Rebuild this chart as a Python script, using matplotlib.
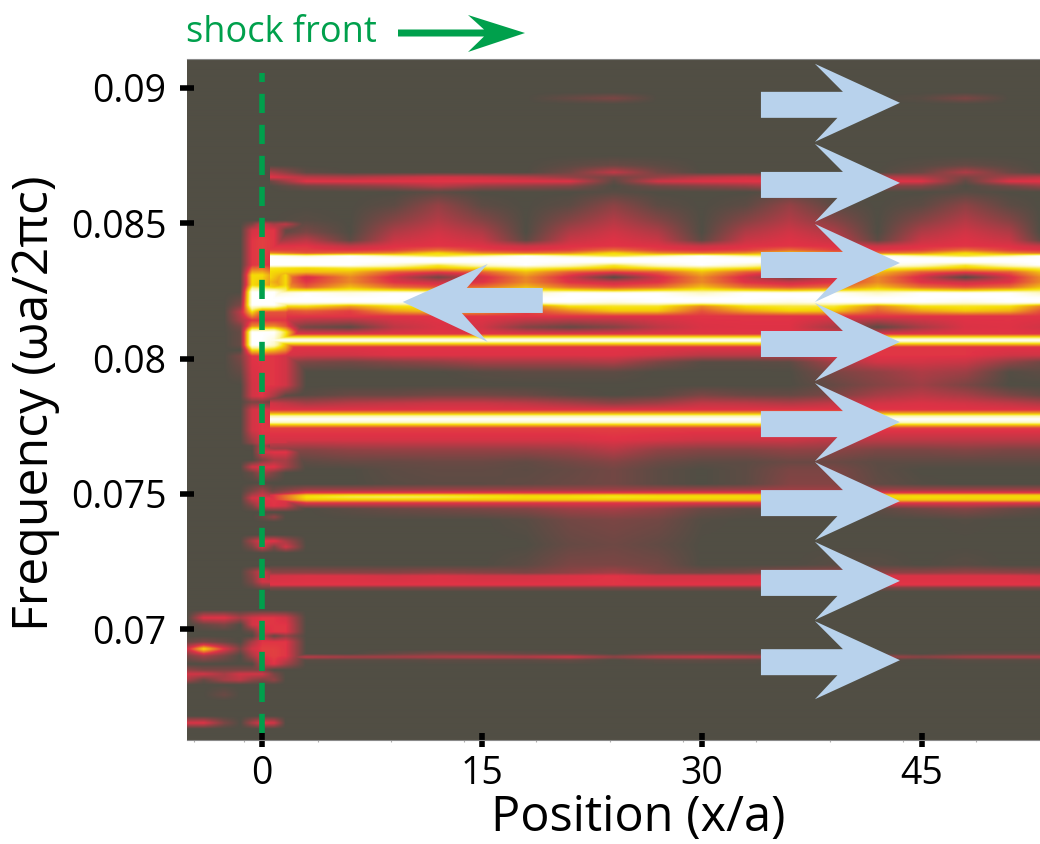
"""
Shock front spectrum map
"""

import numpy as np
import matplotlib
matplotlib.use('Agg')
import matplotlib.pyplot as plt
from matplotlib.colors import LinearSegmentedColormap
from matplotlib.patches import Polygon

plt.rcParams['font.family'] = ['Open Sans', 'DejaVu Sans']

# axis ranges and ticks
x_range = (-5.11, 53.05)
y_range = (0.0659, 0.09107)
x_ticks = [0, 15, 30, 45]
x_minor_ticks = [-4.6, -1.2, 3.8, 8.8, 13.8, 18.7, 23.7, 28.7, 33.7, 38.7, 43.7, 48.7]
y_ticks = [0.07, 0.075, 0.08, 0.085, 0.09]
y_tick_labels = ['0.07', '0.075', '0.08', '0.085', '0.09']

# arrows, frequency at the tip
right_arrow_freq = [0.08945, 0.08649, 0.08353, 0.08061, 0.07765, 0.07473, 0.07178, 0.06885]
right_arrow_tip = 43.5
left_arrow_freq = 0.08209
left_arrow_tip = 9.6

main_x = [0.5, 3, 6, 9, 12, 15, 18, 21, 24, 27, 30, 33, 36, 39, 42, 45, 48, 51, 53.1]
main_freq = [
    0.09107, 0.08985, 0.08963, 0.08941, 0.08752, 0.08715, 0.08689, 0.08671, 0.08656, 0.08638,
    0.08616, 0.08567, 0.08512, 0.08468, 0.08438, 0.08416, 0.08401, 0.08390, 0.08379, 0.08372,
    0.08357, 0.08346, 0.08335, 0.08320, 0.08301, 0.08283, 0.08264, 0.08253, 0.08242, 0.08224,
    0.08209, 0.08194, 0.08176, 0.08157, 0.08116, 0.08091, 0.08079, 0.08068, 0.08057, 0.08043,
    0.08013, 0.07987, 0.07950, 0.07902, 0.07865, 0.07835, 0.07810, 0.07798, 0.07787, 0.07776,
    0.07765, 0.07754, 0.07743, 0.07699, 0.07662, 0.07617, 0.07588, 0.07536, 0.07514, 0.07503,
    0.07495, 0.07488, 0.07477, 0.07466, 0.07444, 0.07403, 0.07311, 0.07237, 0.07207, 0.07196,
    0.07163, 0.07152, 0.07137, 0.06923, 0.06908, 0.06896, 0.06885, 0.06867, 0.06590,
]
main_level = [
    [0] * 19,
    [0] * 19,
    [0, 0, 0, 0, 0, 0, 0, .05, .10, 0, 0, 0, 0, 0, 0, .02, .10, 0, 0],
    [0] * 19,
    [0] * 19,
    [0, 0, 0, 0, 0, 0, 0, .03, .06, .03, 0, 0, 0, 0, 0, .02, .05, .02, 0],
    [.22, .03, 0, 0, 0, 0, 0, .08, .26, .08, 0, 0, 0, 0, 0, .06, .22, .06, 0],
    [.34, .24, .22, .26, .30, .28, .24, .16, .08, .16, .24, .28, .26, .26, .24, .22, .10, .20, .24],
    [.06, .34, .34, .34, .34, .34, .33, .33, .03, .30, .33, .34, .34, .34, .34, .33, .04, .33, .34],
    [0, .08, .12, .16, .24, .16, .14, .12, 0, .08, .12, .16, .24, .16, .12, .12, 0, .08, .16],
    [0, 0, 0, 0, .03, 0, 0, 0, .02, 0, 0, 0, .03, 0, 0, 0, .02, 0, 0],
    [0, 0, 0, .03, .16, .03, 0, .03, .14, .03, 0, .03, .16, .03, 0, .03, .14, .03, 0],
    [0, .02, 0, .12, .23, .12, 0, .12, .23, .12, 0, .12, .23, .12, 0, .12, .23, .12, 0],
    [0, .10, 0, .22, .30, .22, 0, .22, .30, .22, 0, .22, .30, .22, 0, .22, .30, .22, 0],
    [.15, .25, .03, .28, .33, .28, .03, .28, .33, .28, .03, .28, .33, .28, .03, .28, .33, .28, .04],
    [.33, .34, .26, .33, .34, .33, .28, .33, .34, .33, .28, .33, .34, .33, .28, .33, .34, .33, .28],
    [.36, .36, .34, .36, .45, .36, .34, .36, .45, .36, .34, .36, .45, .36, .34, .36, .45, .36, .34],
    [.50, .40, .45, .50, .66, .50, .45, .50, .66, .50, .45, .50, .66, .50, .45, .50, .66, .50, .45],
    [1, .90, 1, .85, .72, .85, 1, .85, .72, .85, 1, .85, .72, .85, 1, .85, .72, .85, 1],
    [1] * 19,
    [1] * 19,
    [1, 1, 1, .90, .72, .90, 1, .90, .72, .90, 1, .90, .72, .90, 1, .90, .72, .90, 1],
    [.70, .66, .72, .70, .62, .70, .76, .70, .62, .70, .76, .70, .62, .70, .76, .70, .62, .70, .76],
    [.66, .60, .60, .42, .36, .42, .60, .42, .36, .42, .60, .42, .36, .42, .60, .42, .36, .42, .60],
    [.66, .30, .50, .30, .08, .30, .50, .30, .02, .30, .50, .30, .08, .30, .50, .30, .02, .30, .50],
    [.60, .34, .50, .33, .28, .33, .50, .33, .28, .33, .50, .33, .28, .33, .50, .33, .28, .33, .50],
    [.66, .42, .60, .45, .40, .45, .60, .45, .40, .45, .60, .45, .40, .45, .60, .45, .40, .45, .60],
    [.70, .66, .72, .66, .60, .66, .72, .66, .60, .66, .72, .66, .60, .66, .72, .66, .60, .66, .72],
    [.90, 1, .95, 1, 1, 1, .90, 1, 1, 1, .90, 1, 1, 1, .90, 1, 1, 1, .90],
    [1] * 19,
    [1, 1, 1, 1, .95, 1, 1, 1, .95, 1, 1, 1, .95, 1, 1, 1, .95, 1, 1],
    [.66, .68, .55, .68, .70, .68, .45, .68, .70, .70, .50, .68, .72, .72, .50, .68, .70, .68, .50],
    [.36, .42, .36, .55, .62, .55, .36, .50, .62, .62, .40, .55, .64, .62, .42, .55, .62, .58, .40],
    [.34] * 19,
    [.30, .08, .03, .25, .32, .30, .12, .05, .12, .25, .32, .33, .33, .20, .03, .20, .32, .33, .30],
    [.34] * 19,
    [.70] * 19,
    [1] * 19,
    [.70] * 19,
    [.34] * 19,
    [.33, .30, .30, .33, .33, .33, .33, .33, .33, .30, .25, .25, .25, .33, .34, .34, .34, .30, .30],
    [.20, .10, .08, .12, .15, .20, .20, .20, .22, .10, .02, .02, .03, .20, .30, .30, .28, .15, .08],
    [.10, 0, 0, 0, 0, .02, .03, .03, .03, 0, 0, 0, 0, .10, .15, .22, .18, .01, .03],
    [0, 0, 0, 0, 0, 0, 0, 0, 0, 0, 0, 0, 0, .05, .12, .18, .10, 0, 0],
    [0, .02, .06, .06, .08, .08, .06, .02, 0, .02, .10, .06, .05, .10, .20, .25, .20, .10, .05],
    [.30, .20, .24, .26, .28, .28, .25, .20, .14, .18, .26, .25, .22, .26, .30, .32, .30, .26, .22],
    [.34] * 19,
    [.55] * 19,
    [.85] * 19,
    [1] * 19,
    [.90] * 19,
    [.60] * 19,
    [.36] * 19,
    [.31, .31, .31, .31, .31, .31, .31, .31, .33, .31, .29, .29, .29, .25, .25, .25, .25, .25, .25],
    [.15, .12, .15, .16, .16, .16, .16, .18, .24, .15, .12, .12, .15, .14, .10, .10, .12, .10, .10],
    [0, .03, .05, .05, .06, .06, .04, .08, .12, .06, .03, .03, .06, .06, .03, .03, .03, .03, .03],
    [0, 0, 0, .03, .04, .04, .03, .05, .08, .03, 0, .03, .10, .10, .03, 0, 0, 0, 0],
    [0, 0, 0, .02, .03, .03, .04, .06, .08, .03, 0, .03, .12, .12, .04, .01, 0, 0, 0],
    [.05, .18, .18, .18, .18, .18, .18, .18, .18, .18, .18, .18, .18, .18, .18, .18, .18, .18, .18],
    [.10, .36, .36, .36, .36, .36, .36, .36, .36, .36, .36, .36, .36, .36, .36, .36, .36, .36, .36],
    [.30, .62, .66, .66, .66, .64, .62, .62, .64, .62, .62, .62, .62, .62, .62, .62, .62, .62, .62],
    [.30, .68, .74, .76, .74, .70, .67, .68, .70, .68, .67, .66, .66, .66, .66, .67, .66, .66, .66],
    [.30, .62, .62, .62, .62, .62, .62, .62, .62, .62, .62, .62, .62, .62, .62, .62, .62, .62, .62],
    [.05, .34, .34, .34, .34, .34, .34, .34, .34, .34, .34, .34, .34, .34, .34, .34, .34, .34, .34],
    [0, 0, .03, .06, .08, .10, .12, .18, .20, .15, .06, .03, .03, .03, .03, .08, .12, .06, .03],
    [0, 0, 0, 0, 0, 0, .02, .08, .10, .08, .01, 0, 0, 0, 0, 0, .01, 0, 0],
    [0, 0, 0, 0, 0, 0, 0, .05, .07, .04, 0, 0, 0, 0, 0, 0, 0, 0, 0],
    [0, 0, 0, 0, 0, 0, .03, .10, .10, .08, 0, 0, 0, .02, .02, 0, .02, 0, 0],
    [.15, .15, .14, .13, .15, .13, .10, .15, .20, .10, .08, .10, .15, .17, .15, .15, .17, .15, .13],
    [.30, .32, .32, .30, .32, .30, .30, .32, .34, .30, .30, .30, .32, .32, .32, .32, .32, .32, .30],
    [.34] * 19,
    [.10] * 19,
    [0] * 19,
    [0] * 19,
    [0, 0, 0, .05, .10, .08, .05, .03, 0, .05, .06, .05, .03, .03, .02, 0, .03, .04, .04],
    [0, .25, .20, .20, .22, .25, .24, .30, .15, .25, .28, .26, .20, .20, .20, .14, .20, .22, .22],
    [0, .02, .02, .02, .03, .03, .03, .05, 0, .03, .04, .03, .02, .02, .02, 0, .02, .02, .02],
    [0] * 19,
    [0] * 19,
]

# intensity around the shock front itself
shock_x = [-5.11, -4.0, -2.6, -1.5, -0.7, 0, 0.8, 1.6, 3.0]
shock_freq = [
    0.08512, 0.08497, 0.08475, 0.08438, 0.08401, 0.08346, 0.08309, 0.08272, 0.08246, 0.08198,
    0.08172, 0.08142, 0.08120, 0.08098, 0.08050, 0.08031, 0.08009, 0.07902, 0.07861, 0.07839,
    0.07810, 0.07736, 0.07688, 0.07677, 0.07654, 0.07624, 0.07599, 0.07577, 0.07540, 0.07510,
    0.07484, 0.07455, 0.07432, 0.07414, 0.07395, 0.07348, 0.07325, 0.07303, 0.07281, 0.07233,
    0.07211, 0.07174, 0.07144, 0.07070, 0.07041, 0.07015, 0.06989, 0.06974, 0.06952, 0.06926,
    0.06900, 0.06870, 0.06848, 0.06833, 0.06811, 0.06793, 0.06756, 0.06734, 0.06678, 0.06652,
    0.06630,
]
shock_level = [
    [0] * 9,
    [0, 0, 0, 0, .10, .30, .20, .25, 0],
    [0, 0, 0, 0, .30, .34, .34, .05, 0],
    [0, 0, 0, 0, .34, .36, .34, .08, 0],
    [0, 0, 0, 0, .34, .36, .34, .30, 0],
    [0, 0, 0, 0, .34, .36, .30, .30, 0],
    [0, 0, 0, 0, .66, .66, .50, .66, 0],
    [0, 0, 0, 0, .66, .60, .50, .66, 0],
    [0, 0, 0, 0, 1, 1, 1, .80, 0],
    [0, 0, 0, .10, 1, 1, 1, .80, 0],
    [0, 0, 0, .25, .66, .40, .40, .40, 0],
    [0, 0, 0, .20, .34, .34, .34, .34, 0],
    [0, 0, 0, .10, .50, .50, .50, .40, 0],
    [0, 0, 0, .05, 1, 1, 1, .70, 0],
    [0, 0, 0, .05, 1, 1, .90, .60, 0],
    [0, 0, 0, 0, .66, .66, .60, .50, 0],
    [0, 0, 0, .10, .34, .34, .34, .30, 0],
    [0, 0, 0, 0, .30, .34, .34, .30, 0],
    [0, 0, 0, 0, .30, .34, .20, .02, 0],
    [0, 0, 0, 0, .10, .10, .02, 0, 0],
    [0, 0, 0, 0, .30, .34, .30, .30, 0],
    [0, 0, 0, 0, .30, .34, .34, .34, 0],
    [0, 0, 0, 0, .15, .30, .30, .30, 0],
    [0, 0, 0, 0, .02, .25, .02, .03, 0],
    [0, 0, 0, 0, 0, .30, .34, .34, 0],
    [0, 0, 0, 0, 0, .10, .20, .20, 0],
    [0, 0, 0, 0, .30, .34, .34, .20, 0],
    [0, 0, 0, 0, .05, .20, .10, 0, 0],
    [0] * 9,
    [0, 0, 0, 0, .10, .20, .05, 0, 0],
    [0, 0, 0, 0, .30, .34, .34, .34, 0],
    [0, 0, 0, 0, .10, .30, .34, .30, 0],
    [0] * 9,
    [0, 0, 0, 0, 0, .05, .15, 0, 0],
    [0] * 9,
    [0] * 9,
    [0, 0, 0, 0, .20, .34, .34, .20, 0],
    [0, 0, 0, 0, .10, .30, .10, .30, 0],
    [0] * 9,
    [0] * 9,
    [0, 0, 0, 0, .15, .30, .10, 0, 0],
    [0, 0, 0, 0, .10, .30, .30, .30, 0],
    [0] * 9,
    [0] * 9,
    [0, .33, .34, .20, .30, .34, .34, .30, 0],
    [0, .05, .10, 0, .30, .34, .34, .34, 0],
    [0, 0, 0, 0, .05, .30, .34, .34, 0],
    [0, 0, 0, 0, 0, .25, .05, .15, 0],
    [.05, .10, .05, 0, .20, .34, .34, .34, 0],
    [.30, .66, .34, .10, .30, .36, .36, .34, 0],
    [.10, .20, .10, 0, .20, .34, .36, .34, 0],
    [0, 0, 0, 0, 0, .25, .34, .20, 0],
    [.15, .10, .10, .10, .10, .10, 0, 0, 0],
    [.30, .30, .20, .30, .30, .30, .10, 0, 0],
    [.20, .05, .20, .25, .15, .10, .15, 0, 0],
    [0] * 9,
    [0, 0, .06, 0, 0, 0, 0, 0, 0],
    [0] * 9,
    [0] * 9,
    [.32, .33, .10, 0, .20, .34, .30, 0, 0],
    [0] * 9,
]


def resample(level, xs, freqs, grid_x, grid_y):
    # table to render grid, in value space so the colour map stays clean
    level = np.array(level, dtype=float)[::-1]
    freqs = np.array(freqs)[::-1]
    by_freq = np.array([np.interp(grid_y, freqs, level[:, c], left=0, right=0) for c in range(level.shape[1])])
    return np.array([np.interp(grid_x, xs, by_freq[:, r], left=0, right=0) for r in range(len(grid_y))])


def right_arrow(tip, freq):
    # arrow outline in data units
    dx = np.array([-139, -57, -85, 0, -85, -62.5, -139]) / 14.667
    dy = np.array([11, 11, 39, 0, -39, -15, -15]) / 27050.
    return np.column_stack((tip + dx, freq + dy))


def left_arrow(tip, freq):
    dx = np.array([140, 64, 85, 0, 85, 59, 140]) / 14.667
    dy = np.array([14, 14, 38, 0, -40, -11, -11]) / 27050.
    return np.column_stack((tip + dx, freq + dy))


def main():
    fig = plt.figure(figsize=(10.4, 8.44), dpi=100)
    ax = fig.add_axes([187 / 1040, 104 / 844, 853 / 1040, 681 / 844])

    # heat map
    cmap = LinearSegmentedColormap.from_list('spectrum', [(0, '#514e44'), (1 / 3, '#e03246'), (2 / 3, '#f6df05'),
                                                          (0.82, '#fcf4a0'), (1, '#ffffff')])
    grid_x = np.linspace(x_range[0], x_range[1], 853)
    grid_y = np.linspace(y_range[0], y_range[1], 1000)
    field = np.maximum(resample(main_level, main_x, main_freq, grid_x, grid_y),
                       resample(shock_level, shock_x, shock_freq, grid_x, grid_y))
    ax.imshow(field,
              origin='lower',
              extent=(x_range[0], x_range[1], y_range[0], y_range[1]),
              aspect='auto',
              cmap=cmap,
              vmin=0,
              vmax=1,
              interpolation='bilinear')

    # shock position
    ax.plot([0, 0], [0.06615, 0.09055], color='#00a04c', linewidth=4, linestyle=(0, (3.45, 2.13)),
            dash_capstyle='butt')

    # propagation arrows
    for f in right_arrow_freq:
        ax.add_patch(Polygon(right_arrow(right_arrow_tip, f), closed=True, facecolor='#b8d2ec', edgecolor='none'))
    ax.add_patch(Polygon(left_arrow(left_arrow_tip, left_arrow_freq), closed=True, facecolor='#b8d2ec',
                         edgecolor='none'))

    # axes
    ax.set_xlim(x_range)
    ax.set_ylim(y_range)
    ax.set_xticks(x_ticks)
    ax.set_xticks(x_minor_ticks, minor=True)
    ax.set_yticks(y_ticks)
    ax.set_yticklabels(y_tick_labels)
    ax.tick_params(axis='both', which='major', direction='inout', length=10, width=4, color='black',
                   labelsize=27, labelcolor='black')
    ax.tick_params(axis='x', which='major', pad=6)
    ax.tick_params(axis='y', which='major', pad=10)
    ax.tick_params(axis='x', which='minor', direction='out', length=1.5, width=0.8, color='#b0b0b0')
    for side in ['top', 'bottom']:
        ax.spines[side].set_color('#8a8a8a')
        ax.spines[side].set_linewidth(0.8)
    for side in ['left', 'right']:
        ax.spines[side].set_visible(False)

    ax.set_xlabel('Position (x/a)', fontsize=35)
    ax.set_ylabel('Frequency (ωa/2πc)', fontsize=36)
    ax.xaxis.set_label_coords(0.529, -0.079)
    ax.yaxis.set_label_coords(-0.149, 0.495)

    # shock front heading, placed on the figure
    fig.text(186 / 1040, 1 - 33 / 844, 'shock front', color='#00a04c', fontsize=26, ha='left', va='center')
    head_x = np.array([398, 484, 468, 525, 468, 484, 398]) / 1040
    head_y = 1 - np.array([29.5, 29.5, 15, 33, 52, 36.5, 36.5]) / 844
    fig.add_artist(Polygon(np.column_stack((head_x, head_y)), closed=True, facecolor='#00a04c', edgecolor='none',
                           transform=fig.transFigure))

    fig.savefig('out.png', dpi=100)


if __name__ == '__main__':
    main()
